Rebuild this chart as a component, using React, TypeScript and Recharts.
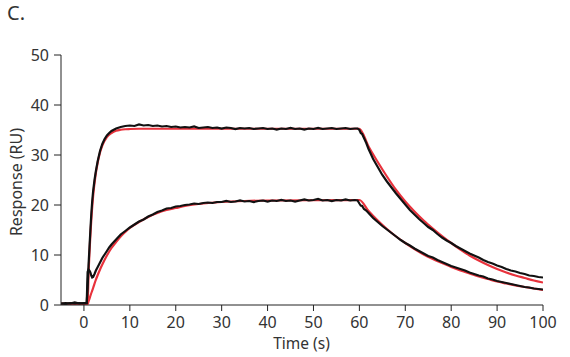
import React from 'react';
import { LineChart, Line, XAxis, YAxis } from 'recharts';

// Measured trace time grid (s)
const blackTime = [
  -5, -4, -3, -2, -1, 0, 0.6,
  0.8, 1.0, 1.2, 1.4, 1.6, 1.8, 2.0, 2.3, 2.6, 3.0, 3.5, 4.0, 4.5, 5.0, 5.5, 6, 7, 8, 9,
  10, 11, 12, 13, 14, 15, 16, 17, 18, 19, 20, 21, 22, 23, 24, 25, 26, 27, 28, 29,
  30, 31, 32, 33, 34, 35, 36, 37, 38, 39, 40, 41, 42, 43, 44, 45, 46, 47, 48, 49,
  50, 51, 52, 53, 54, 55, 56, 57, 58, 59,
  59.6, 60.0, 60.3, 60.6, 61, 61.5, 62,
  63, 64, 65, 66, 67, 68, 69, 70, 71, 72, 73, 74, 75, 76, 77, 78, 79, 80,
  81, 82, 83, 84, 85, 86, 87, 88, 89, 90, 91, 92, 93, 94, 95, 96, 97, 98, 99, 100,
];

// Measured response, higher concentration (RU)
const blackUpper = [
  0.3, 0.4, 0.3, 0.5, 0.3, 0.4, 0.4,
  3.5, 8.0, 11.5, 15.0, 18.2, 20.8, 22.8, 25.0, 26.8, 28.8, 30.8, 32.2, 33.2, 33.9, 34.4, 34.8, 35.3, 35.6, 35.8,
  35.9, 35.8, 36.1, 35.9, 36.0, 35.8, 35.9, 35.7, 35.8, 35.6, 35.7, 35.5, 35.6, 35.5, 35.7, 35.4, 35.5, 35.6, 35.4, 35.5,
  35.3, 35.5, 35.4, 35.2, 35.4, 35.3, 35.4, 35.2, 35.3, 35.4, 35.2, 35.3, 35.1, 35.3, 35.2, 35.4, 35.2, 35.3, 35.1, 35.3,
  35.2, 35.4, 35.2, 35.3, 35.4, 35.2, 35.3, 35.4, 35.2, 35.3,
  35.3, 35.0, 34.4, 34.2, 33.4, 32.4, 31.2,
  29.2, 27.6, 26.0, 24.7, 23.5, 22.3, 21.2, 20.1, 19.0, 18.1, 17.2, 16.4, 15.6, 15.0, 14.2, 13.5, 12.9, 12.4,
  11.8, 11.3, 10.8, 10.3, 9.9, 9.5, 9.0, 8.6, 8.3, 7.9, 7.6, 7.2, 6.9, 6.7, 6.4, 6.2, 5.9, 5.8, 5.6, 5.5,
];

// Measured response, lower concentration (RU)
const blackLower = [
  0.3, 0.2, 0.4, 0.3, 0.4, 0.3, 0.4,
  6.6, 7.1, 6.9, 6.5, 5.9, 5.5, 5.6, 6.2, 6.9, 7.6, 8.5, 9.4, 10.1, 10.8, 11.5, 12.1, 13.1, 14.1, 14.8,
  15.5, 16.1, 16.7, 17.1, 17.7, 18.1, 18.6, 18.9, 19.3, 19.4, 19.7, 19.8, 20.0, 20.1, 20.3, 20.2, 20.4, 20.5, 20.4, 20.6,
  20.6, 20.8, 20.6, 20.7, 20.9, 20.7, 20.8, 20.6, 20.8, 20.9, 20.7, 20.9, 20.8, 21.0, 20.8, 20.9, 20.7, 20.9, 21.1, 20.9,
  21.0, 21.2, 20.9, 21.0, 20.8, 21.0, 20.9, 21.1, 20.9, 21.0,
  20.9, 20.3, 19.9, 19.8, 19.2, 18.9, 18.4,
  17.4, 16.6, 15.8, 15.1, 14.4, 13.7, 13.0, 12.4, 11.9, 11.3, 10.8, 10.3, 9.8, 9.5, 9.0, 8.6, 8.2, 7.8,
  7.5, 7.2, 6.9, 6.5, 6.2, 5.9, 5.7, 5.3, 5.1, 4.8, 4.6, 4.4, 4.2, 4.0, 3.8, 3.6, 3.5, 3.3, 3.2, 3.1,
];

// Fitted model time grid (s)
const fitTime = [
  -5, 0.7,
  0.8, 1.0, 1.5, 2.0, 2.5, 3.0, 3.5, 4.0,
  5, 6, 7, 8, 9, 10,
  12, 14, 16, 18, 20, 22,
  25, 30, 35, 40, 50, 60,
  62, 64, 66, 68, 70, 72, 74, 76, 78, 80, 82, 84, 86, 88, 90, 92, 94, 96, 98, 100,
];

const fitUpper = [
  0.3, 0.3,
  0.4, 6.0, 15.5, 21.8, 25.8, 28.5, 30.5, 31.9,
  33.6, 34.4, 34.85, 35.05, 35.15, 35.2,
  35.25, 35.25, 35.25, 35.25, 35.25, 35.25,
  35.25, 35.25, 35.25, 35.25, 35.25, 35.25,
  31.7, 28.6, 25.7, 23.0, 20.7, 18.7, 16.9, 15.3, 13.8, 12.4, 11.1, 9.9, 8.9, 8.0, 7.2, 6.5, 5.9, 5.4, 4.9, 4.5,
];

const fitLower = [
  0.2, 0.2,
  0.2, 0.7, 2.1, 3.4, 4.8, 6.0, 7.1, 8.1,
  9.9, 11.4, 12.6, 13.7, 14.6, 15.4,
  16.6, 17.6, 18.4, 19.0, 19.4, 19.8,
  20.2, 20.6, 20.8, 20.9, 20.95, 21.0,
  18.8, 16.9, 15.2, 13.7, 12.4, 11.2, 10.1, 9.2, 8.4, 7.6, 6.9, 6.3, 5.7, 5.2, 4.7, 4.3, 3.9, 3.6, 3.3, 3.0,
];

const xTicks = [0, 10, 20, 30, 40, 50, 60, 70, 80, 90, 100];
const yTicks = [0, 10, 20, 30, 40, 50];

const toSeries = (ts: number[], ys: number[]) => ts.map((t, i) => ({ t, y: ys[i] }));

const FONT = '"Noto Sans", sans-serif';
const TEXT = '#333333';
const RED = '#e8323c';
const BLACK = '#111111';

export default function App() {
  const tickStyle = { fill: TEXT, fontSize: 16, fontFamily: FONT };
  return (
    <div
      style={{
        position: 'absolute',
        left: 0,
        top: 0,
        width: 570,
        height: 357,
        background: '#ffffff',
        fontFamily: FONT,
      }}
    >
      <LineChart width={570} height={357} margin={{ top: 55, right: 27, bottom: 22, left: 21 }}>
        <XAxis
          type="number"
          dataKey="t"
          domain={[-5, 100]}
          ticks={xTicks}
          allowDataOverflow
          height={30}
          tickSize={6}
          tickMargin={6}
          stroke="#222"
          tick={tickStyle}
        />
        <YAxis
          type="number"
          domain={[0, 50]}
          ticks={yTicks}
          allowDataOverflow
          width={40}
          tickSize={7}
          tickMargin={5}
          stroke="#222"
          tick={tickStyle}
        />
        <Line
          data={toSeries(fitTime, fitUpper)}
          dataKey="y"
          type="monotone"
          stroke={RED}
          strokeWidth={2.2}
          dot={false}
          isAnimationActive={false}
        />
        <Line
          data={toSeries(fitTime, fitLower)}
          dataKey="y"
          type="monotone"
          stroke={RED}
          strokeWidth={2.2}
          dot={false}
          isAnimationActive={false}
        />
        <Line
          data={toSeries(blackTime, blackUpper)}
          dataKey="y"
          type="linear"
          stroke={BLACK}
          strokeWidth={2.2}
          dot={false}
          isAnimationActive={false}
        />
        <Line
          data={toSeries(blackTime, blackLower)}
          dataKey="y"
          type="linear"
          stroke={BLACK}
          strokeWidth={2.2}
          dot={false}
          isAnimationActive={false}
        />
      </LineChart>
      <svg
        width={570}
        height={357}
        style={{ position: 'absolute', left: 0, top: 0, pointerEvents: 'none' }}
      >
        <text x={7} y={20} fontSize={20} fill={TEXT} fontFamily={FONT}>
          C.
        </text>
        <text x={301.5} y={349} fontSize={15.5} fill={TEXT} fontFamily={FONT} textAnchor="middle">
          Time (s)
        </text>
        <text
          transform="translate(22,182) rotate(-90)"
          fontSize={16}
          fill={TEXT}
          fontFamily={FONT}
          textAnchor="middle"
        >
          Response (RU)
        </text>
      </svg>
    </div>
  );
}
